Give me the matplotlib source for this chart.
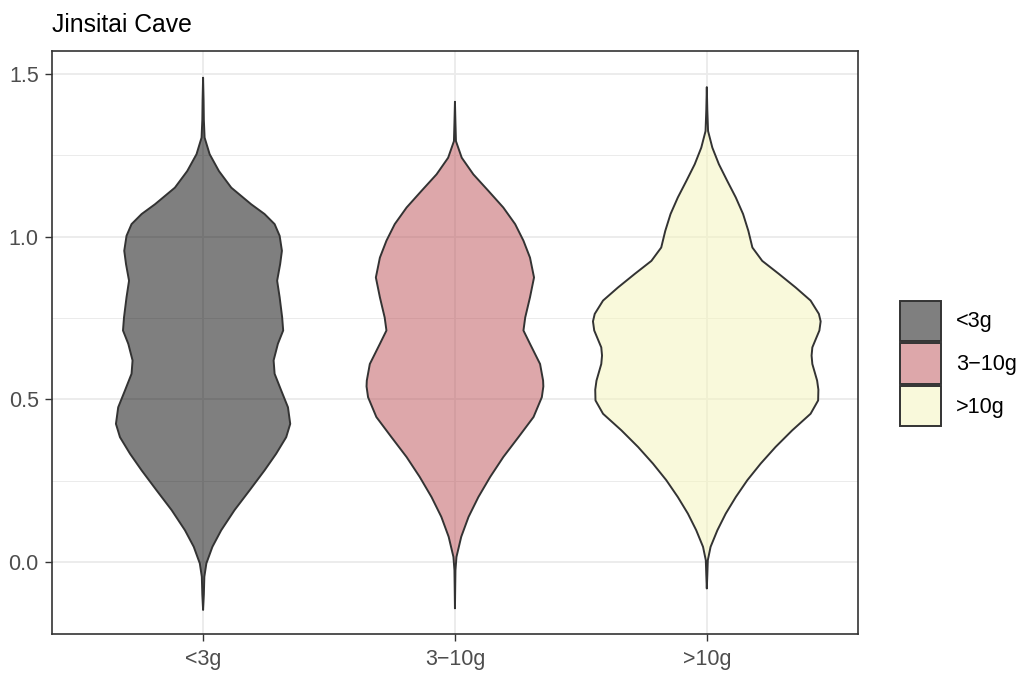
import numpy as np
import matplotlib.pyplot as plt
from matplotlib.patches import Patch
from matplotlib.colors import to_rgba

plt.rcParams['font.family'] = ['Liberation Sans', 'DejaVu Sans']

groups = ['<3g', '3\u221210g', '>10g']
fills = ['#000000', '#BC5157', '#F5F5B9']

# density outline of each group: y value and half width (x units)
small_y = [-0.147, -0.10, -0.045, -0.004, 0.047, 0.098, 0.160, 0.221, 0.282, 0.333,
           0.384, 0.425, 0.476, 0.528, 0.579, 0.620, 0.671, 0.712, 0.752, 0.814,
           0.865, 0.916, 0.957, 1.003, 1.039, 1.070, 1.100, 1.151, 1.202, 1.254,
           1.305, 1.36, 1.42, 1.489]
small_w = [0.0, 0.003, 0.005, 0.013, 0.037, 0.072, 0.125, 0.185, 0.244, 0.290,
           0.330, 0.346, 0.337, 0.310, 0.284, 0.280, 0.297, 0.318, 0.314, 0.304,
           0.294, 0.306, 0.313, 0.304, 0.284, 0.244, 0.191, 0.112, 0.063, 0.026,
           0.006, 0.003, 0.002, 0.0]

mid_y = [-0.142, -0.08, -0.025, 0.016, 0.078, 0.139, 0.200, 0.262, 0.323, 0.384,
         0.446, 0.507, 0.540, 0.558, 0.609, 0.671, 0.712, 0.752, 0.814, 0.875,
         0.936, 0.988, 1.039, 1.090, 1.141, 1.192, 1.243, 1.294, 1.35, 1.415]
mid_w = [0.0, 0.001, 0.002, 0.006, 0.025, 0.054, 0.093, 0.140, 0.192, 0.252,
         0.312, 0.345, 0.351, 0.350, 0.338, 0.298, 0.272, 0.279, 0.298, 0.314,
         0.298, 0.272, 0.239, 0.192, 0.133, 0.073, 0.027, 0.004, 0.002, 0.0]

large_y = [-0.081, -0.04, 0.006, 0.047, 0.098, 0.149, 0.200, 0.252, 0.303, 0.354,
           0.405, 0.456, 0.497, 0.530, 0.558, 0.609, 0.635, 0.660, 0.712, 0.740,
           0.763, 0.804, 0.844, 0.886, 0.926, 0.967, 1.018, 1.070, 1.121, 1.172,
           1.223, 1.274, 1.325, 1.39, 1.460]
large_w = [0.0, 0.002, 0.004, 0.015, 0.042, 0.075, 0.115, 0.161, 0.214, 0.273,
           0.339, 0.412, 0.442, 0.443, 0.438, 0.419, 0.416, 0.419, 0.447, 0.452,
           0.445, 0.412, 0.353, 0.286, 0.220, 0.181, 0.165, 0.144, 0.115, 0.081,
           0.048, 0.022, 0.005, 0.002, 0.0]

profiles = [(small_y, small_w), (mid_y, mid_w), (large_y, large_w)]

fig = plt.figure(figsize=(10.25, 6.75), dpi=100)
ax = fig.add_axes([0.0507, 0.0607, 0.7863, 0.8637])

for i, ((ys, ws), col) in enumerate(zip(profiles, fills)):
    pos = i + 1
    ys = np.array(ys)
    ws = np.array(ws)
    xs = np.concatenate([pos - ws, (pos + ws)[::-1]])
    yy = np.concatenate([ys, ys[::-1]])
    ax.fill(xs, yy, facecolor=to_rgba(col, 0.5), edgecolor='#333333',
            linewidth=1.4, joinstyle='round', zorder=2)

ax.set_xlim(0.4, 3.6)
ax.set_ylim(-0.221, 1.571)
ax.set_xticks([1, 2, 3])
ax.set_xticklabels(groups)
ax.set_yticks([0.0, 0.5, 1.0, 1.5])
ax.set_yticklabels(['0.0', '0.5', '1.0', '1.5'])
ax.set_yticks([0.25, 0.75, 1.25], minor=True)

ax.grid(True, which='major', color='#EBEBEB', linewidth=1.3, zorder=0)
ax.grid(True, which='minor', axis='y', color='#EBEBEB', linewidth=0.7, zorder=0)
ax.set_axisbelow(True)
ax.tick_params(axis='both', which='major', length=5, width=1, color='#333333',
               labelcolor='#4D4D4D', labelsize=15.5)
ax.tick_params(axis='x', which='major', pad=6)
ax.tick_params(axis='y', which='major', pad=4.5)
ax.tick_params(axis='both', which='minor', length=0)
for sp in ax.spines.values():
    sp.set_color('#333333')
    sp.set_linewidth(1.2)

fig.text(0.0507, 0.9526, 'Jinsitai Cave', fontsize=17.8, color='black',
         ha='left', va='baseline')

handles = [Patch(facecolor=to_rgba(c, 0.5), edgecolor='#333333', linewidth=1.4)
           for c in fills]
leg = fig.legend(handles, groups, loc='center left', bbox_to_anchor=(0.867, 0.4615),
                 frameon=False, fontsize=15.6, handlelength=1.9, handleheight=2.5,
                 labelspacing=0.1, handletextpad=0.72, borderpad=0)

fig.savefig('out.png', dpi=100)
